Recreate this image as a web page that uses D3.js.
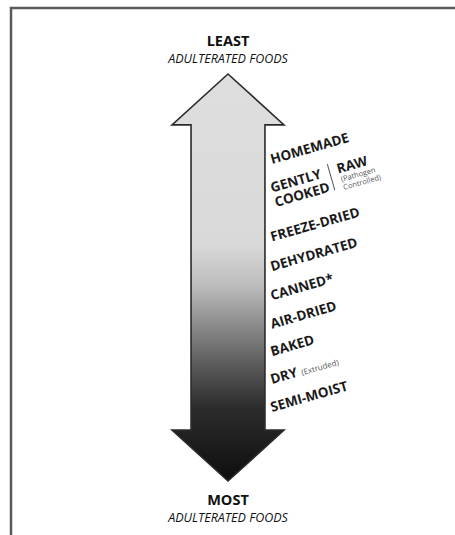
<!DOCTYPE html>
<html>
<head>
<meta charset="utf-8">
<script src="https://cdn.jsdelivr.net/npm/d3@7"></script>
<style>
  html, body { margin: 0; padding: 0; background: #fff; }
  svg { display: block; }
</style>
</head>
<body>
<svg id="chart" width="455" height="535"></svg>
<script>
// food types, from least to most adulterated
const foods = ["HOMEMADE", "GENTLY", "FREEZE-DRIED", "DEHYDRATED", "CANNED*", "AIR-DRIED", "BAKED", "DRY", "SEMI-MOIST"];
// position of each food along the scale
const levels = [0, 1.0, 2.72, 3.76, 4.78, 5.78, 6.74, 7.72, 8.7];
// second lines / side notes
const secondLine = { "GENTLY": "COOKED" };
const notes = { "DRY": "(Extruded)" };
const rawLabel = "RAW";
const rawNotes = ["(Pathogen", "Controlled)"];

const topTitle = ["LEAST", "ADULTERATED FOODS"];
const bottomTitle = ["MOST", "ADULTERATED FOODS"];

// gradient along the arrow (0 = least, 1 = most)
const gradOffsets = [0, 0.42, 0.52, 0.62, 0.72, 0.82, 1];
const gradColors = ["#dedede", "#d9d9d9", "#bcbcbc", "#8a8a8a", "#585858", "#2c2c2c", "#0e0e0e"];

const svg = d3.select("#chart");
const font = "'Open Sans', 'DejaVu Sans', sans-serif";

// frame (top and left edge only)
svg.append("path")
  .attr("d", "M11,535 L11,8 L455,8")
  .attr("fill", "none")
  .attr("stroke", "#5a5a5a")
  .attr("stroke-width", 2.5);

// scales for the arrow
const yScale = d3.scaleLinear().domain([0, 1]).range([74, 481]);
const xScale = d3.scaleLinear().domain([-1, 1]).range([172, 284]);
const shaft = 0.66;   // half width of the shaft, in x units
const head = 0.125;   // depth of each arrow head, in y units

const arrowPts = [
  [0, 0], [1, head], [shaft, head], [shaft, 1 - head], [1, 1 - head],
  [0, 1], [-1, 1 - head], [-shaft, 1 - head], [-shaft, head], [-1, head]
];

const defs = svg.append("defs");
defs.append("linearGradient")
  .attr("id", "arrow-gradient")
  .attr("gradientUnits", "userSpaceOnUse")
  .attr("x1", 0).attr("y1", yScale(0))
  .attr("x2", 0).attr("y2", yScale(1))
  .selectAll("stop")
  .data(gradOffsets)
  .enter().append("stop")
  .attr("offset", d => d)
  .attr("stop-color", (d, i) => gradColors[i]);

svg.append("path")
  .datum(arrowPts)
  .attr("d", d3.line().x(d => xScale(d[0])).y(d => yScale(d[1])).curve(d3.curveLinearClosed))
  .attr("fill", "url(#arrow-gradient)")
  .attr("stroke", "#2b2b2b")
  .attr("stroke-width", 1.6)
  .attr("stroke-linejoin", "miter");

// titles
function title(lines, y) {
  svg.append("text")
    .attr("x", xScale(0)).attr("y", y)
    .attr("text-anchor", "middle")
    .attr("font-family", font).attr("font-weight", 700).attr("font-size", 14.5)
    .attr("fill", "#111")
    .text(lines[0]);
  svg.append("text")
    .attr("x", xScale(0)).attr("y", y + 17)
    .attr("text-anchor", "middle")
    .attr("font-family", font).attr("font-style", "italic").attr("font-size", 12.5)
    .attr("fill", "#111")
    .text(lines[1]);
}
title(topTitle, 46);
title(bottomTitle, 505);

// food labels
const labelScale = d3.scaleLinear().domain([0, 8.7]).range([164, 412]);
const labelX = 272;
const angle = -16;

const groups = svg.selectAll("g.food")
  .data(foods)
  .enter().append("g")
  .attr("class", "food")
  .attr("transform", (d, i) => `translate(${labelX},${labelScale(levels[i])}) rotate(${angle})`);

const main = groups.append("text")
  .attr("font-family", font).attr("font-weight", 700).attr("font-size", 13.5)
  .attr("fill", "#1a1a1a")
  .text(d => d);

main.filter(d => notes[d])
  .append("tspan")
  .attr("dx", 4)
  .attr("font-weight", 400).attr("font-size", 8).attr("fill", "#555")
  .text(d => notes[d]);

groups.filter(d => secondLine[d])
  .append("text")
  .attr("y", 15)
  .attr("font-family", font).attr("font-weight", 700).attr("font-size", 13.5)
  .attr("fill", "#1a1a1a")
  .text(d => secondLine[d]);

// RAW side of the gently cooked group
const g1 = groups.filter(d => secondLine[d]);
g1.append("line")
  .attr("x1", 61).attr("x2", 61).attr("y1", -12).attr("y2", 15)
  .attr("stroke", "#555").attr("stroke-width", 1);
g1.append("text")
  .attr("x", 69).attr("y", 0)
  .attr("font-family", font).attr("font-weight", 700).attr("font-size", 13.5)
  .attr("fill", "#1a1a1a")
  .text(rawLabel);
g1.selectAll("text.raw-note")
  .data(rawNotes)
  .enter().append("text")
  .attr("class", "raw-note")
  .attr("x", 70).attr("y", (d, i) => 9 + i * 8.5)
  .attr("font-family", font).attr("font-size", 7.5)
  .attr("fill", "#555")
  .text(d => d);
</script>
</body>
</html>
